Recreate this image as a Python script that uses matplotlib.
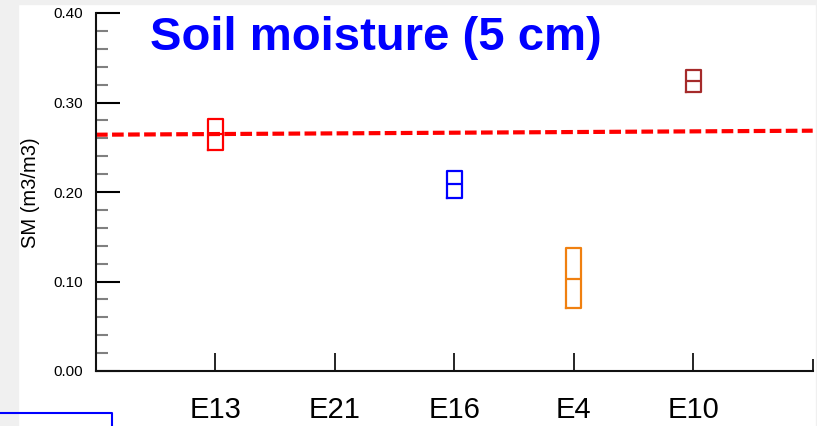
import matplotlib
matplotlib.use('Agg')
from matplotlib import pyplot as plt
from matplotlib.patches import Rectangle
from matplotlib.lines import Line2D

plt.rcParams['font.family'] = ['Liberation Sans', 'DejaVu Sans']

# soil moisture at 5 cm per station (box: q1 / median / q3), E21 has no data
sites = ['E13', 'E21', 'E16', 'E4', 'E10']
sm_q1 = [0.247, None, 0.193, 0.070, 0.312]
sm_med = [0.265, None, 0.209, 0.103, 0.324]
sm_q3 = [0.282, None, 0.224, 0.137, 0.336]
box_colors = ['#ff0000', None, '#0000ff', '#f08010', '#a52a2a']

# reference level across the stations
ref_x = [0, 6]
ref_sm = [0.264, 0.2685]

W, H = 817, 426
fig = plt.figure(figsize=(W / 100, H / 100), dpi=100)
fig.patch.set_facecolor('white')

# grey frame strips around the panel
grey = '#f0f0f0'
fig.patches.append(Rectangle((0, 0), 18 / W, 1, transform=fig.transFigure, color=grey, zorder=0))
fig.patches.append(Rectangle((0, 1 - 4 / H), 1, 4 / H, transform=fig.transFigure, color=grey, zorder=0))
fig.patches.append(Rectangle((816 / W, 0), 1 / W, 1, transform=fig.transFigure, color=grey, zorder=0))

ax = fig.add_axes([96 / W, (H - 371) / H, (812.7 - 96) / W, (371 - 13) / H])
ax.set_facecolor('white')

ax.plot(ref_x, ref_sm, color='#ff0000', lw=3, dashes=(2.8, 1.05), zorder=1)

for i, s in enumerate(sites):
    if sm_med[i] is None:
        continue
    stats = [dict(med=sm_med[i], q1=sm_q1[i], q3=sm_q3[i],
                  whislo=sm_q1[i], whishi=sm_q3[i], fliers=[])]
    c = box_colors[i]
    ax.bxp(stats, positions=[i + 1], widths=0.125, showcaps=False,
           showfliers=False, manage_ticks=False,
           boxprops=dict(color=c, lw=1.6),
           medianprops=dict(color=c, lw=1.6),
           whiskerprops=dict(color=c, lw=0))

ax.set_xlim(0, 6)
ax.set_ylim(0, 0.40)

for side in ['top', 'right']:
    ax.spines[side].set_visible(False)
for side in ['left', 'bottom']:
    ax.spines[side].set_linewidth(1.5)
    ax.spines[side].set_color('#111111')

ax.set_xticks(range(1, len(sites) + 1))
ax.set_xticklabels(sites)
ax.set_xticks([6], minor=True)
ax.tick_params(axis='x', which='major', direction='in', length=13, width=1.2,
               labelsize=21, pad=18)
ax.tick_params(axis='x', which='minor', direction='in', length=9, width=1.2)

ax.set_yticks([0.0, 0.1, 0.2, 0.3, 0.4])
ax.set_yticklabels(['0.00', '0.10', '0.20', '0.30', '0.40'])
ax.set_yticks([0.02 * k for k in range(21) if k % 5], minor=True)
ax.tick_params(axis='y', which='major', direction='in', length=17, width=1.5,
               labelsize=11, pad=9)
ax.tick_params(axis='y', which='minor', direction='in', length=8.6, width=1.5,
               color='#808080')

fig.text(31 / W, 1 - 192.5 / H, 'SM (m3/m3)', rotation=90, ha='center',
         va='center', fontsize=14.5)

fig.text(150 / W, 1 - 49.5 / H, 'Soil moisture (5 cm)', color='#0000ff',
         fontsize=34, fontweight='bold', ha='left', va='baseline')

# blue outline box at the lower left corner
fig.lines.append(Line2D([0, 112 / W, 112 / W], [1 - 412.7 / H, 1 - 412.7 / H, 0],
                        transform=fig.transFigure, color='#0000ff', lw=1.5))

fig.savefig('out.png', dpi=100)
